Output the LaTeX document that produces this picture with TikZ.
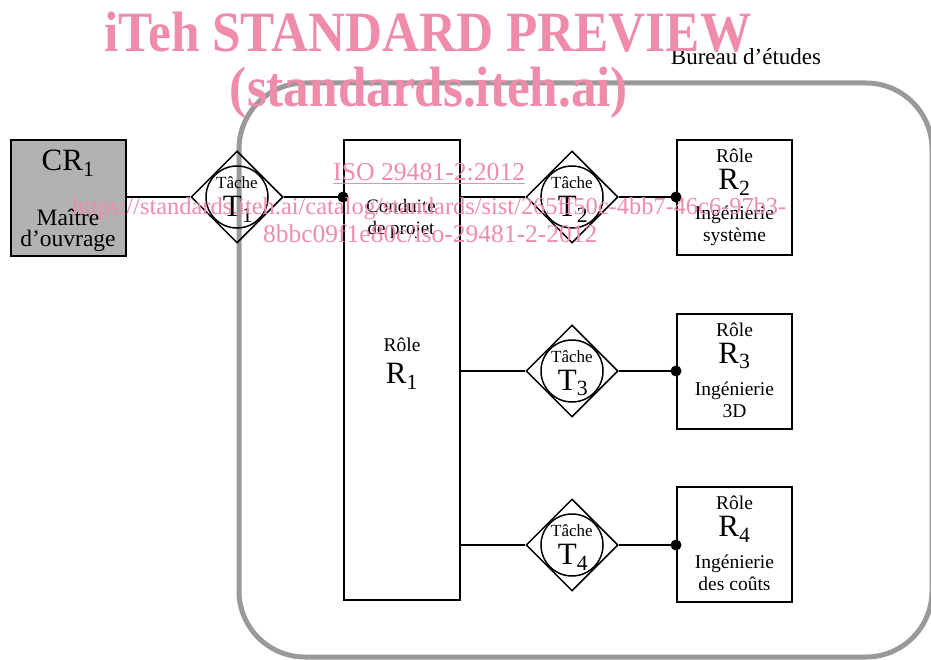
\documentclass[tikz,border=0pt]{standalone}
\usepackage{fontspec}
\setmainfont{Liberation Serif}
\usetikzlibrary{shapes.geometric}
\definecolor{officeframe}{RGB}{153,153,153}
\definecolor{clientfill}{RGB}{178,178,178}
\definecolor{wmpink}{RGB}{238,140,170}
\newcommand\fs[1]{\fontsize{#1}{#1}\selectfont}
\tikzset{
  rolebox/.style={draw, line width=2pt, inner sep=0, minimum width=115pt, minimum height=115pt},
  task/.style={diamond, draw, line width=1.5pt, inner sep=0, minimum width=92pt, minimum height=92pt},
  taskring/.style={circle, draw, line width=1.5pt, inner sep=0, minimum size=62pt},
  link/.style={line width=2pt},
  dot/.style={circle, fill, inner sep=0, minimum size=11pt},
  lbl/.style={inner sep=0, align=center},
  tasktxt/.style={lbl, font=\fs{17}},
  roletxt/.style={lbl, font=\fontsize{19.5}{22}\selectfont},
  large/.style={lbl, font=\fs{31}},
  wm/.style={inner sep=0, text=wmpink},
}
\begin{document}
\begin{tikzpicture}[x=1pt, y=-1pt]
\useasboundingbox (0,0) rectangle (931,660);
\begin{scope}
  \clip (0,0) rectangle (931,660);
  % design office boundary
  \draw[officeframe, line width=5pt, rounded corners=66pt] (239,83) rectangle (932,657);
\end{scope}
\node[lbl, font=\fs{23}] (office) at (746,57) {Bureau d’études};

% client
\node[rolebox, fill=clientfill, minimum width=115pt, minimum height=116pt] (cr1) at (68.5,198) {};
\node[large] (cr1n) at (68,163) {CR\textsubscript{1}};
\node[lbl, font=\fontsize{23.5}{21}\selectfont] (cr1t) at (68,230) {Maître\\d’ouvrage};

% project management role
\node[rolebox, minimum width=116pt, minimum height=460pt] (r1) at (402,370) {};
\node[lbl, font=\fontsize{19}{22}\selectfont] (r1a) at (401,219) {Conduite\\de projet};
\node[roletxt] (r1b) at (402,345) {Rôle};
\node[large] (r1c) at (402,376) {R\textsubscript{1}};

% tasks
\foreach \n/\x/\y in {1/237/197, 2/572/197, 3/572/371, 4/572/545}{
  \node[task] (t\n) at (\x,\y) {};
  \node[taskring] (c\n) at (\x,\y) {};
  \node[tasktxt] at (\x,\y-14) {Tâche};
  \node[large] at (\x+1,\y+12) {T\textsubscript{\n}};
}

% engineering roles
\node[rolebox] (r2) at (734.5,198) {};
\node[rolebox] (r3) at (734.5,371.5) {};
\node[rolebox] (r4) at (734.5,544.5) {};
\foreach \r/\top/\txt in {2/140/{Ingénierie\\système}, 3/314/{Ingénierie\\3D}, 4/487/{Ingénierie\\des coûts}}{
  \node[roletxt] at (734.5,\top+16) {Rôle};
  \node[large] at (734.5,\top+42) {R\textsubscript{\r}};
  \node[roletxt] at (734.5,\top+86) {\txt};
}

% connectors
\draw[link] (cr1.east |- t1) -- (t1.west);
\draw[link] (t1.east) -- (t1.east -| r1.west);
\node[dot] (d1) at (t1.east -| r1.west) {};
\foreach \n in {2,3,4}{
  \draw[link] (t\n.west -| r1.east) -- (t\n.west);
  \draw[link] (t\n.east) -- (t\n.east -| r\n.west);
  \node[dot] (d\n) at (t\n.east -| r\n.west) {};
}

% overprinted preview notice
\node[wm, anchor=base] (wm1) at (428,52) {\resizebox{647pt}{!}{\scalebox{0.9}[1]{\fs{56}\bfseries iTeh STANDARD PREVIEW}}};
\node[wm, anchor=base] (wm2) at (429,107) {\resizebox{398pt}{!}{\scalebox{0.9}[1]{\fs{56}\bfseries (standards.iteh.ai)}}};
\node[wm, anchor=base west] (wm3) at (333,181) {\resizebox{192pt}{!}{\fs{25}\underline{ISO 29481-2:2012}}};
\node[wm, anchor=base west] (wm4) at (72,215) {\resizebox{714pt}{!}{\fs{25}https://standards.iteh.ai/catalog/standards/sist/265ff50c-4bb7-46c6-97b3-}};
\node[wm, anchor=base west] (wm5) at (263,243) {\resizebox{334pt}{!}{\fs{25}8bbc09f1e80c/iso-29481-2-2012}};
\end{tikzpicture}
\end{document}
